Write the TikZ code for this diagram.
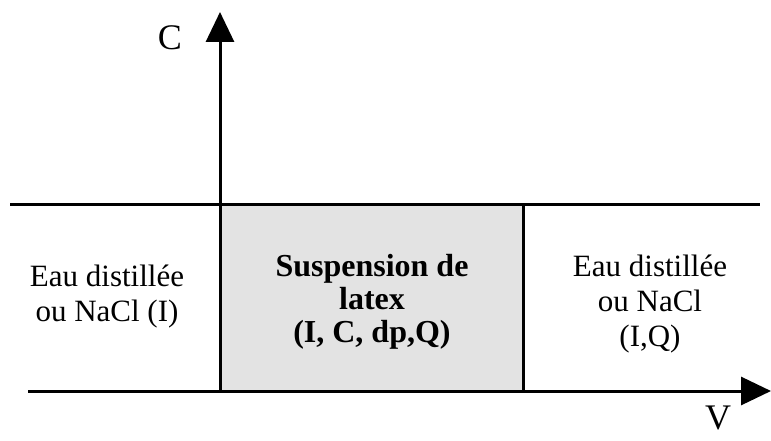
\documentclass[tikz,border=0pt]{standalone}
\usepackage{fontspec}
\setmainfont{Liberation Serif}
\usetikzlibrary{arrows.meta,positioning}

\begin{document}
\begin{tikzpicture}[
    x=1pt, y=-1pt,
    axis/.style={line width=3pt, -{Triangle[length=30pt,width=28pt]}},
    wall/.style={line width=3pt},
    zonetext/.style={font=\fontsize{31}{35}\selectfont, align=center, inner sep=0pt},
    latextext/.style={zonetext, font=\bfseries\fontsize{32}{33}\selectfont},
    axislabel/.style={zonetext, font=\fontsize{36}{40}\selectfont}
]
    \useasboundingbox (0,0) rectangle (771,441);
    % points of the diagram
    \coordinate (orig) at (220,391);
    \coordinate (ctip) at (220,12);
    \coordinate (vstart) at (28,391);
    \coordinate (vtip) at (771,391);
    \coordinate (topleft) at (10,204);
    \coordinate (topright) at (760,204);
    \coordinate (slugtop) at (523,204);
    \coordinate (slugbot) at (523,391);

    \fill[gray!22] (220,204) rectangle (slugbot);
    \draw[wall] (topleft) -- (topright);
    \draw[wall] (slugtop) -- (slugbot);
    \draw[axis] (vstart) -- (vtip);
    \draw[axis] (orig) -- (ctip);

    \node[axislabel] (clabel) at (170,38) {C};
    \node[axislabel] (vlabel) at (718,418) {V};
    \node[zonetext] (eauleft) at (107,297) {Eau distillée\\ou NaCl (I)};
    \node[latextext] (latex) at (372,302) {Suspension de\\latex\\(I, C, dp,Q)};
    \node[zonetext] (eauright) at (650,304) {Eau distillée\\ou NaCl\\(I,Q)};
\end{tikzpicture}
\end{document}
